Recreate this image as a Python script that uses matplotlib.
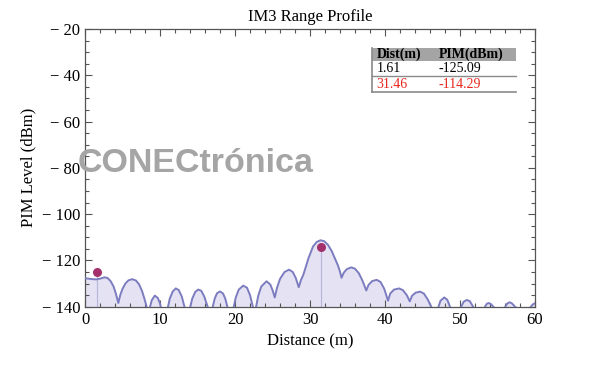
import matplotlib
matplotlib.use("Agg")
import matplotlib.pyplot as plt
from matplotlib.ticker import MultipleLocator, FuncFormatter

dist = [0, 0.5, 1.0, 1.5, 2.0, 2.6, 3.0, 3.4, 3.8, 4.1, 4.44,
        4.7, 5.0, 5.4, 5.8, 6.3, 6.8, 7.2, 7.6, 7.9, 8.2, 8.45,
        8.7, 8.9, 9.3, 9.7, 10.0, 10.3, 10.6,
        11.0, 11.3, 11.7, 12.1, 12.5, 12.9, 13.3, 13.6,
        14.0, 14.3, 14.7, 15.1, 15.5, 15.9, 16.4, 16.7,
        17.0, 17.3, 17.6, 18.0, 18.4, 18.7, 19.0, 19.4,
        19.8, 20.1, 20.5, 21.1, 21.6, 22.0, 22.4, 22.6,
        22.8, 23.1, 23.5, 24.2, 24.7, 25.0, 25.3,
        25.6, 26.0, 26.6, 27.2, 27.7, 28.1, 28.5,
        28.8, 29.1, 29.8, 30.4, 30.9, 31.4, 31.9, 32.4, 32.9, 33.3, 33.7, 34.0, 34.2,
        34.5, 34.9, 35.5, 36.0, 36.5, 37.0, 37.5,
        37.8, 38.3, 38.9, 39.4, 39.9, 40.4,
        40.7, 41.2, 41.9, 42.4, 42.9, 43.3,
        43.6, 44.1, 44.7, 45.2, 45.7, 46.2, 46.6,
        47.1, 47.4, 47.9, 48.3, 48.7, 49.4,
        50.1, 50.5, 50.9, 51.3, 51.8, 52.5,
        53.3, 53.55, 53.8, 54.1, 54.5, 55.2,
        56.0, 56.3, 56.6, 56.9, 57.4, 58.4,
        59.4, 59.7, 60.0]
pim = [-127.7, -127.9, -128.1, -128.2, -127.9, -127.3, -127.6, -128.9, -131.2, -134.2, -138.4,
       -134.9, -132.3, -129.9, -128.6, -128.1, -128.7, -130.3, -133.2, -136.3, -139.8, -144,
       -139.6, -137.2, -135.2, -136.2, -138.6, -143, -150,
       -141, -136.5, -133.4, -132.1, -132.8, -135.6, -140.5, -150,
       -140.5, -136.5, -133.6, -132.6, -133.1, -135.6, -140.5, -150,
       -140.5, -136.4, -134.2, -133.4, -134.3, -136.5, -140.3, -150,
       -140.5, -136.0, -132.6, -130.9, -131.8, -135.0, -140.3, -148,
       -140.2, -135.2, -131.3, -129.0, -130.4, -132.8, -136.0,
       -131.8, -128.0, -125.0, -124.0, -125.0, -127.6, -131.6,
       -128.4, -126.3, -119.0, -114.0, -112.0, -111.3, -111.7, -113.3, -116.0, -119.0, -122.0, -124.9, -127.5,
       -125.3, -123.8, -123.0, -123.6, -125.5, -128.8, -133.0,
       -130.6, -128.9, -128.4, -129.3, -132.3, -137.4,
       -134.3, -132.6, -132.1, -132.9, -135.0, -137.7,
       -135.3, -133.9, -133.5, -134.4, -136.9, -140.3, -150,
       -140.3, -137.4, -136.0, -137.0, -140.3, -150,
       -140.3, -137.8, -137.1, -137.6, -140.3, -150,
       -140.2, -138.8, -138.4, -138.8, -140.2, -150,
       -140.2, -138.6, -138.1, -138.5, -140.2, -150,
       -140.2, -139.0, -138.5]

# markierte Spitzen
mark_dist = [1.61, 31.46]
mark_pim = [-125.09, -114.29]
mark_labels = ["1.61", "31.46"]
mark_values = ["-125.09", "-114.29"]
row_colors = ["black", "#e8281e"]

plt.rcParams["font.family"] = ["Liberation Serif", "DejaVu Serif"]
plt.rcParams["axes.unicode_minus"] = True

fig = plt.figure(figsize=(6, 3.76), dpi=100)
ax = fig.add_axes([0.1417, 0.1843, 0.75, 0.7386])

ax.fill_between(dist, pim, -160, color="#e5e3f3", lw=0, zorder=1)
ax.plot(dist, pim, color="#7c7cc0", lw=1.4, zorder=3)
ax.vlines(mark_dist, -140, mark_pim, color="#b9b5dc", lw=0.9, zorder=2)
ax.plot(mark_dist, mark_pim, "o", color="#a3306b", ms=6.5, mec="none", zorder=4)

ax.set_xlim(0, 60)
ax.set_ylim(-140, -20)
ax.xaxis.set_major_locator(MultipleLocator(10))
ax.xaxis.set_minor_locator(MultipleLocator(2))
ax.yaxis.set_major_locator(MultipleLocator(20))
ax.yaxis.set_minor_locator(MultipleLocator(5))
ax.yaxis.set_major_formatter(FuncFormatter(lambda v, p: "\u2212 %d" % abs(v) if v < 0 else "%d" % v))
ax.tick_params(which="both", direction="in", top=True, right=True, colors="#555555",
               labelcolor="black", labelsize=12, width=0.8)
ax.tick_params(which="major", length=5)
ax.tick_params(which="minor", length=3)
for s in ax.spines.values():
    s.set_color("#555555")
    s.set_linewidth(0.9)

ax.set_title("IM3 Range Profile", fontsize=12, pad=6)
ax.set_xlabel("Distance (m)", fontsize=12, labelpad=4)
ax.set_ylabel("PIM Level (dBm)", fontsize=12, labelpad=4)

# Tabelle oben rechts
tl, tr = 0.638, 0.958
ax.add_patch(plt.Rectangle((tl, 0.885), tr - tl, 0.047, transform=ax.transAxes,
                           color="#a4a4a4", lw=0, zorder=5))
ax.plot([tl, tl], [0.772, 0.932], transform=ax.transAxes, color="#8a8a8a", lw=1.2, zorder=5)
ax.plot([tl, tr], [0.829, 0.829], transform=ax.transAxes, color="#8a8a8a", lw=1.0, zorder=5)
ax.plot([tl, tr], [0.772, 0.772], transform=ax.transAxes, color="#8a8a8a", lw=1.2, zorder=5)
ax.text(tl + 0.010, 0.908, "Dist(m)", transform=ax.transAxes, fontsize=10, weight="bold",
        va="center", zorder=6)
ax.text(0.786, 0.908, "PIM(dBm)", transform=ax.transAxes, fontsize=10, weight="bold",
        va="center", zorder=6)
for i in range(len(mark_labels)):
    yy = 0.857 - i * 0.057
    ax.text(tl + 0.010, yy, mark_labels[i], transform=ax.transAxes, fontsize=10,
            color=row_colors[i], va="center", zorder=6)
    ax.text(0.786, yy, mark_values[i], transform=ax.transAxes, fontsize=10,
            color=row_colors[i], va="center", zorder=6)

# Wasserzeichen
fig.text(78 / 600, 1 - 163 / 376, "CONECtrónica", fontsize=24.5, weight="bold",
         color="#a5a5a5", family="Liberation Sans", va="center", ha="left", zorder=10)

fig.savefig("out.png", dpi=100)
